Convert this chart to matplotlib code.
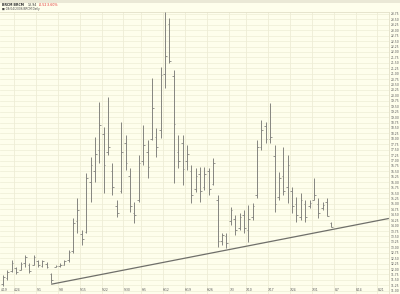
import matplotlib
matplotlib.use("Agg")
import matplotlib.pyplot as plt
from matplotlib.patches import Rectangle
import matplotlib.transforms as mtransforms

# ---- data (trading-day index 0 = 4/19/2006) ----
highs = [11.72, 11.95, 12.41, 12.09, 12.32, 12.64, 12.27, 12.64, 12.41, 12.41,
         12.32, 11.81, 12.18, 12.27, 12.41, 12.88, 14.35, 15.27, 13.80, 16.42,
         17.16, 18.08, 19.69, 18.54, 19.93, 16.88, 15.18, 18.77, 18.17, 16.65,
         15.09, 17.25, 18.63, 17.94, 20.80, 18.50, 21.31, 23.84, 23.57, 21.17,
         18.17, 18.17, 17.71, 16.79, 16.65, 16.70, 16.70, 16.65, 17.11, 15.41,
         13.66, 13.66, 14.86, 14.49, 14.58, 14.72, 14.95, 15.04, 17.94, 18.87,
         18.77, 19.65, 17.71, 16.47, 17.62, 17.25, 15.78, 15.32, 15.50, 15.18,
         15.18, 16.19, 15.27, 15.09, 15.27, 14.17]
lows = [11.22, 11.49, 11.86, 11.77, 11.95, 12.09, 11.81, 12.18, 12.09, 12.09,
        12.05, 11.35, 12.09, 12.09, 12.18, 12.32, 12.74, 13.66, 13.10, 13.66,
        15.09, 16.01, 16.88, 15.50, 17.25, 15.41, 14.40, 15.50, 16.56, 14.63,
        14.12, 15.09, 16.79, 16.19, 17.94, 17.16, 18.04, 20.34, 21.49, 15.96,
        16.65, 15.87, 16.56, 15.04, 15.55, 15.09, 15.64, 15.41, 15.87, 13.01,
        13.10, 12.97, 14.03, 13.57, 13.80, 13.66, 13.24, 14.26, 15.27, 17.48,
        17.81, 17.81, 14.63, 15.18, 15.41, 15.04, 14.58, 14.17, 14.26, 14.17,
        14.81, 15.18, 14.35, 14.72, 14.45, 13.93]
opens = [11.30, 11.60, 11.90, 12.05, 11.95, 12.30, 12.20, 12.20, 12.35, 12.15,
         12.25, 11.75, 12.10, 12.12, 12.20, 12.40, 12.85, 14.20, 13.60, 13.70,
         16.00, 16.50, 17.50, 18.20, 17.40, 16.50, 14.90, 15.60, 17.80, 16.30,
         14.60, 15.20, 17.00, 17.40, 18.00, 18.10, 18.40, 21.00, 23.30, 20.90,
         17.40, 17.80, 17.00, 16.50, 15.70, 16.40, 15.80, 16.50, 15.90, 15.20,
         13.30, 13.50, 14.20, 14.30, 13.90, 14.50, 13.80, 14.40, 15.40, 17.60,
         18.60, 18.00, 17.20, 15.30, 16.30, 15.80, 15.60, 15.00, 14.40, 15.00,
         14.90, 15.20, 15.00, 14.80, 15.10, 14.10]
closes = [11.65, 11.85, 12.30, 11.85, 12.25, 12.55, 11.90, 12.55, 12.20, 12.35,
          12.10, 11.50, 12.15, 12.20, 12.35, 12.80, 14.10, 14.70, 13.40, 16.20,
          16.80, 17.30, 18.63, 16.80, 17.60, 15.80, 14.60, 17.40, 16.90, 14.90,
          14.50, 16.90, 17.70, 16.70, 19.40, 17.60, 20.95, 21.80, 21.60, 18.70,
          17.00, 16.60, 17.30, 15.40, 16.30, 15.60, 16.40, 15.70, 16.90, 13.30,
          13.55, 13.20, 14.70, 13.80, 14.40, 13.90, 14.30, 14.90, 17.60, 18.40,
          18.00, 18.10, 15.00, 16.20, 15.60, 16.80, 14.90, 14.50, 15.20, 14.40,
          15.05, 15.40, 14.60, 14.95, 14.46, 13.94]

# weekly date labels (index of trading day, label)
date_idx = [0, 3, 8, 13, 18, 23, 28, 32, 37, 42, 47, 52, 56, 61, 66, 71, 76, 81, 86]
date_lbl = ["4/19", "4/24", "5/1", "5/8", "5/15", "5/22", "5/30", "6/5", "6/12",
            "6/19", "6/26", "7/3", "7/10", "7/17", "7/24", "7/31", "8/7", "8/14", "8/21"]

# support trend line (index, price)
trend_idx = [11, 88.1]
trend_val = [11.30, 14.33]

price_ticks = [11.0 + 0.25 * i for i in range(52)]

BG = "#FEFEEC"
GRID = "#EEEDD6"
BAR = "#858580"

fig = plt.figure(figsize=(4.0, 2.94), dpi=100, facecolor=BG)
ax = fig.add_axes([0, 0, 389 / 400, 282 / 294])
ax.set_facecolor(BG)
ax.set_xlim(-0.685, 88.13)
ax.set_ylim(10.85, 23.842)

# grid
for p in price_ticks:
    ax.axhline(p, color=GRID, lw=0.5, zorder=0)
for d in date_idx[1:]:
    ax.axvline(d - 0.5, color=GRID, lw=0.6, zorder=0)

# trend line
ax.plot(trend_idx, trend_val, color="#6F6F6A", lw=0.9, zorder=2, solid_capstyle="butt")

# OHLC bars
xs = list(range(len(highs)))
ax.vlines(xs, lows, highs, color=BAR, lw=0.7, zorder=3)
ax.hlines(opens, [x - 0.38 for x in xs], xs, color=BAR, lw=0.6, zorder=3)
ax.hlines(closes, xs, [x + 0.38 for x in xs], color=BAR, lw=0.6, zorder=3)

# axes cosmetics
for s in ["left", "bottom"]:
    ax.spines[s].set_visible(False)
ax.spines["top"].set_color("#E2E0C8")
ax.spines["top"].set_linewidth(0.6)
ax.spines["right"].set_color("#E2E0C8")
ax.spines["right"].set_linewidth(0.6)
ax.set_xticks([])
ax.yaxis.tick_right()
ax.set_yticks(price_ticks)
ax.set_yticklabels(["%.2f" % p for p in price_ticks])
ax.tick_params(axis="y", length=0, pad=1.5, labelsize=2.2, labelcolor="#555555")

trans = mtransforms.blended_transform_factory(ax.transData, ax.transAxes)
for d, l in zip(date_idx, date_lbl):
    ax.text(d + 0.25, 0.015, l, transform=trans, ha="center", va="center",
            fontsize=2.2, color="#555555")

# header
fig.patches.append(Rectangle((0, 1 - 3 / 294), 1, 3 / 294, transform=fig.transFigure,
                             facecolor="#EAE8D6", edgecolor="none"))
hy1 = 1 - 4.5 / 294
hy2 = 1 - 8.8 / 294
fig.text(2 / 400, hy1, "BRCM BRCM", fontsize=2.3, color="#333333", va="center",
         fontweight="bold")
fig.text(28 / 400, hy1, "13.94", fontsize=2.3, color="#333333", va="center")
fig.text(39 / 400, hy1, "-0.52", fontsize=2.3, color="#E03030", va="center")
fig.text(47 / 400, hy1, "-3.60%", fontsize=2.3, color="#E03030", va="center")
fig.text(2 / 400, hy2, "\u25a0 08/04/2006 BRCM Daily", fontsize=2.1, color="#444444",
         va="center")

fig.savefig("out.png", dpi=100, facecolor=BG)
